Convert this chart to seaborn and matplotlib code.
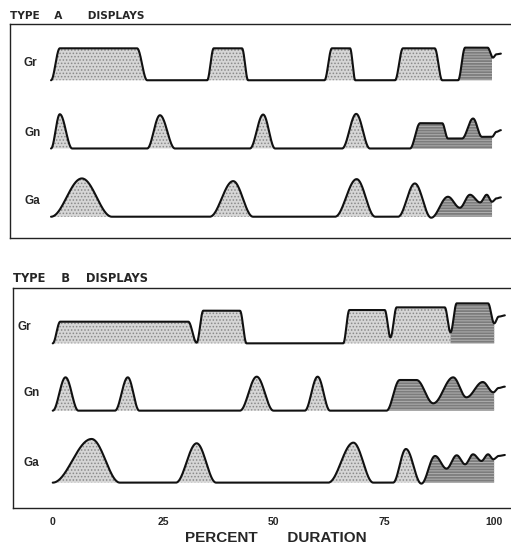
"""
Type A / Type B displays: Gr, Gn, Ga traces against percent duration.
"""

import numpy as np
import matplotlib
matplotlib.use("Agg")
import matplotlib.pyplot as plt
import seaborn as sns

sns.set_style("white")
plt.rcParams['font.family'] = ['Liberation Sans', 'DejaVu Sans']
plt.rcParams['hatch.linewidth'] = 0.7

# ---- data: key points (percent duration, level) ----
# Type A
gr_a_x = [0, 2, 19.5, 21.8, 35.4, 36.9, 43.3, 44.7, 62, 63.7, 67.8, 69,
          78, 79.8, 87, 88.7, 92.3, 93.9, 99, 100.2, 101, 102]
gr_a_y = [0, .96, .96, 0, 0, .96, .96, 0, 0, .96, .96, 0,
          0, .96, .96, 0, 0, .98, .98, .68, .78, .8]
gn_a_x = [0, 2, 4.8, 21.8, 24.7, 28.1, 45.1, 48.1, 50.8, 66, 69.2, 72.3,
          81.4, 83.7, 88.7, 90, 93.2, 95.7, 97.7, 100, 101, 102]
gn_a_y = [0, 1.03, 0, 0, 1.0, 0, 0, 1.02, 0, 0, 1.04, 0,
          0, .76, .76, .3, .3, .9, .35, .35, .5, .55]
ga_a_x = [0, 7, 13.8, 36, 41.3, 45.8, 64.4, 69.3, 73.5, 78.7, 82.5, 86.2,
          90, 92.7, 95, 97.3, 98.8, 100, 101, 102]
ga_a_y = [0, 1.15, 0, 0, 1.07, 0, 0, 1.13, 0, 0, 1.0, -0.03,
          .6, .27, .66, .43, .66, .45, .55, .58]

# Type B
gr_b_x = [0, 1.7, 30.7, 32.6, 34.1, 42.4, 43.9, 65.8, 67.2, 75.2, 76.5, 77.9,
          88.8, 90.1, 91.5, 98.6, 100, 101, 102.4]
gr_b_y = [0, .65, .65, .02, .98, .98, 0, 0, 1.0, 1.0, .18, 1.08,
          1.08, .33, 1.2, 1.2, .6, .8, .84]
gn_b_x = [0, 2.9, 5.8, 14.1, 17, 19.6, 42.4, 46.2, 50, 57.1, 60, 62.8,
          75.6, 78.6, 82.4, 86.2, 90.7, 93.7, 97.4, 99.8, 101, 102.4]
gn_b_y = [0, 1.0, 0, 0, 1.0, 0, 0, 1.02, 0, 0, 1.02, 0,
          0, .92, .92, .22, 1.0, .4, .86, .55, .68, .72]
ga_b_x = [0, 8.8, 15.2, 27.9, 32.6, 37, 62.4, 68.1, 72.6, 77.1, 80, 83.5,
          86.6, 89.2, 91.5, 93.4, 95.2, 97.1, 98.6, 99.8, 101, 102.4]
ga_b_y = [0, 1.31, 0, 0, 1.18, 0, 0, 1.2, 0, 0, 1.01, -0.03,
          .8, .42, .82, .55, .85, .65, .85, .7, .8, .83]

# where the dark (streaked) shading begins on each trace
dark_start_a = {'Gr': 92.3, 'Gn': 81.4, 'Ga': 86.2}
dark_start_b = {'Gr': 90.1, 'Gn': 75.6, 'Ga': 83.5}

ticks = [0, 25, 50, 75, 100]


def smooth_trace(xs, ys, n=40):
    """Join the key points with eased (half-cosine) segments."""
    out_x, out_y = [], []
    for x0, x1, y0, y1 in zip(xs[:-1], xs[1:], ys[:-1], ys[1:]):
        t = np.linspace(0, 1, n, endpoint=False)
        out_x.append(x0 + (x1 - x0) * t)
        out_y.append(y0 + (y1 - y0) * (1 - np.cos(np.pi * t)) / 2)
    out_x.append([xs[-1]])
    out_y.append([ys[-1]])
    return np.concatenate(out_x), np.concatenate(out_y)


def draw_trace(ax, xs, ys, offset, dark_from):
    x, y = smooth_trace(xs, ys)
    light = (x <= dark_from) & (y > 0)
    dark = (x >= dark_from) & (x <= 100)
    ax.fill_between(x, offset, offset + y, where=light, interpolate=True,
                    facecolor='#d6d6d6', edgecolor='#8a8a8a', hatch='.....',
                    linewidth=0, zorder=1)
    ax.fill_between(x, offset, offset + np.maximum(y, 0), where=dark,
                    facecolor='#7c7c7c', edgecolor='#b0b0b0', hatch='------',
                    linewidth=0, zorder=1)
    sns.lineplot(x=x, y=y + offset, ax=ax, color='#111111', lw=1.5,
                 sort=False, estimator=None, zorder=3)


fig = plt.figure(figsize=(5.11, 5.52), dpi=100)
ax_a = fig.add_axes([10 / 511, 0.5688, 1 - 10 / 511, 0.3877])
ax_b = fig.add_axes([13 / 511, 0.0792, 1 - 13 / 511, 0.3996])

panels = [
    (ax_a, [('Gr', gr_a_x, gr_a_y, 4.1), ('Gn', gn_a_x, gn_a_y, 2.05),
            ('Ga', ga_a_x, ga_a_y, 0.0)], dark_start_a, (-9.3, 104.3), (-0.64, 5.79)),
    (ax_b, [('Gr', gr_b_x, gr_b_y, 4.18), ('Gn', gn_b_x, gn_b_y, 2.16),
            ('Ga', ga_b_x, ga_b_y, 0.0)], dark_start_b, (-9.0, 103.8), (-0.77, 5.85)),
]

label_pos = {
    0: {'Gr': (-6.3, 0.52), 'Gn': (-6.0, 0.47), 'Ga': (-6.0, 0.46)},
    1: {'Gr': (-7.9, 0.48), 'Gn': (-6.7, 0.54), 'Ga': (-6.7, 0.6)},
}

for i, (ax, traces, dark_from, xlim, ylim) in enumerate(panels):
    for name, xs, ys, off in traces:
        draw_trace(ax, xs, ys, off, dark_from[name])
        lx, ly = label_pos[i][name]
        ax.text(lx, off + ly, name, fontsize=8.5, fontweight='bold',
                ha='left', va='center')
    ax.set_xlim(*xlim)
    ax.set_ylim(*ylim)
    ax.set_yticks([])
    ax.set_xticks(ticks)
    ax.set_xlabel('')
    ax.set_ylabel('')
    ax.spines['right'].set_visible(False)
    for s in ['top', 'left', 'bottom']:
        ax.spines[s].set_linewidth(1.0)
        ax.spines[s].set_color('#222222')
    ax.tick_params(axis='x', direction='out', length=3, width=0.8,
                   color='#222222', pad=3)

ax_a.set_xticklabels([])
ax_b.set_xticklabels([str(t) for t in ticks], fontsize=7.5, fontweight='bold')

fig.text(10 / 511, 1 - 15.7 / 552, 'TYPE    A       DISPLAYS', fontsize=7.6,
         fontweight='bold', ha='left', va='center', family='DejaVu Sans')
fig.text(13 / 511, 1 - 279 / 552, 'TYPE    B    DISPLAYS', fontsize=8.3,
         fontweight='bold', ha='left', va='center', family='DejaVu Sans')
fig.text(276 / 511, 1 - 538 / 552, 'PERCENT       DURATION', fontsize=11,
         fontweight='bold', ha='center', va='center')

fig.savefig('out.png', dpi=100, facecolor='white')
